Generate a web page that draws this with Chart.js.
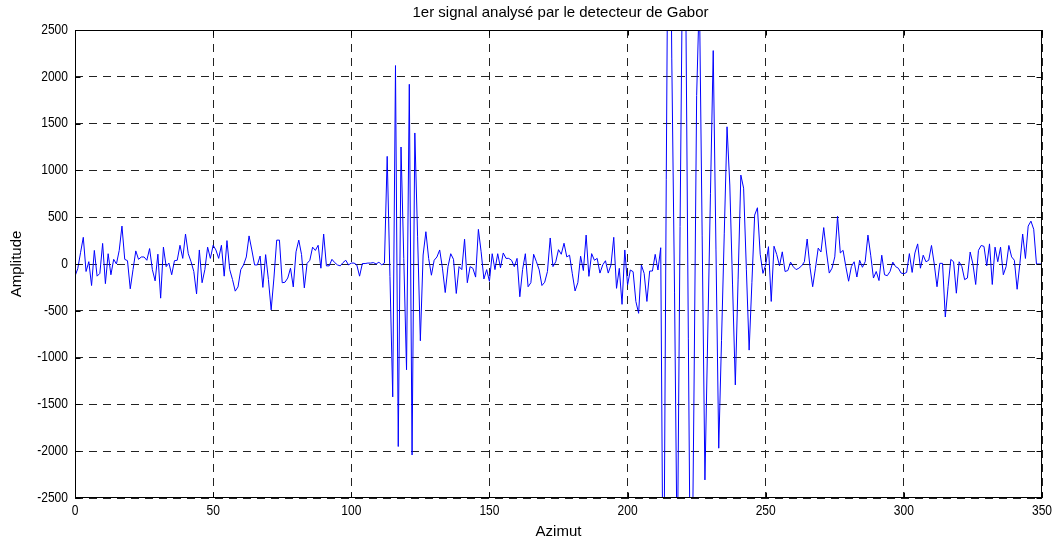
<!DOCTYPE html>
<html>
<head>
<meta charset="utf-8">
<script src="https://cdn.jsdelivr.net/npm/chart.js@4.4.1/dist/chart.umd.min.js"></script>
<style>
  html, body { margin: 0; padding: 0; background: #ffffff; }
  #wrap { width: 1060px; height: 545px; }
</style>
</head>
<body>
<div id="wrap"><canvas id="c" width="1060" height="545"></canvas></div>
<script>
// Amplitude samples, one per azimut step, grouped by blocks of 50
const amp000 = [-130,-50,120,285,-80,25,-230,145,-130,-100,
  220,-210,110,-115,50,0,145,405,50,35,
  -265,-60,140,50,75,75,40,165,-60,-180,
  105,-365,180,-28,10,-115,35,40,200,60,
  320,110,25,-80,-320,150,-200,-60,180,60];
const amp050 = [200,150,60,200,-130,250,-60,-165,-290,-245,
  -60,-10,75,300,150,-10,-10,85,-250,100,
  -165,-490,-150,255,255,-200,-195,-150,-45,-245,
  130,255,100,-255,7,40,180,145,200,-45,
  320,-20,-20,50,15,-10,-20,15,40,-10];
const amp100 = [10,10,-10,-130,5,5,10,10,15,0,
  20,-10,10,1150,-135,-1420,2120,-1950,1250,60,
  -1130,1920,-2040,1400,290,-820,96,345,60,-120,
  40,75,150,-45,-305,-28,110,50,-315,-28,
  -60,265,-200,-28,-45,-140,370,130,-160,-60];
const amp150 = [-185,110,-60,110,-40,118,60,60,40,-28,
  60,-350,-60,110,-243,-200,104,25,-62,-230,
  -195,-80,278,-28,24,153,104,222,76,94,
  -104,-288,-200,83,-70,309,-132,111,40,60,
  -97,-10,35,-97,-10,285,-260,-46,-431,150];
const amp200 = [-225,-64,-82,-400,-527,-11,-100,-400,-75,-75,
  103,-64,174,-4200,900,5500,2200,-300,-3300,400,
  3600,3100,-800,-4500,-1500,1800,2900,300,-2307,-780,
  750,2280,150,-1968,-820,330,1466,844,-224,-1292,
  -170,950,810,-55,-920,-200,523,601,105,-100];
const amp250 = [-10,185,-400,190,100,-20,130,-80,-70,20,
  -30,-60,-45,-20,24,267,-28,-243,-45,170,
  128,389,128,-97,-45,76,510,118,146,-28,
  -184,-28,24,-139,40,-35,24,309,94,-150,
  -80,-177,94,-115,-125,-80,20,-28,-45,-97];
const amp300 = [-104,-90,111,-90,118,215,-45,94,24,40,
  198,0,-243,7,7,-566,-243,49,24,-312,
  24,-28,-167,-150,128,0,-219,146,198,188,
  -20,215,-219,180,24,180,-115,-28,198,76,
  40,-270,7,320,59,405,458,371,0,0,0];

const amplitude = [].concat(amp000, amp050, amp100, amp150, amp200, amp250, amp300);
const azimutStart = 0;       // first azimut value
const azimutStep = 1;        // azimut increment between samples

const xTicks = [0, 50, 100, 150, 200, 250, 300, 350];
const yTicks = [-2500, -2000, -1500, -1000, -500, 0, 500, 1000, 1500, 2000, 2500];

const titleText = '1er signal analysé par le detecteur de Gabor';
const xLabel = 'Azimut';
const yLabel = 'Amplitude';

const points = amplitude.map((v, i) => ({ x: azimutStart + i * azimutStep, y: v }));

const FONT = 'Liberation Sans, Arial, Helvetica, sans-serif';

// Text is drawn slightly condensed, like the exported figure's Helvetica
function drawText(ctx, text, x, y, align, size, sx, rotate) {
  ctx.save();
  ctx.translate(x, y);
  if (rotate) ctx.rotate(-Math.PI / 2);
  ctx.scale(sx, 1);
  ctx.font = size + 'px ' + FONT;
  ctx.fillStyle = '#000';
  ctx.textAlign = align;
  ctx.textBaseline = 'middle';
  ctx.fillText(text, 0, 0);
  ctx.restore();
}

// Draws the frame, MATLAB-style inward tick marks and all labels
const framePlugin = {
  id: 'frame',
  afterDraw(chart) {
    const { ctx, chartArea: a, scales } = chart;
    ctx.save();
    ctx.strokeStyle = '#000';
    ctx.lineWidth = 1;
    const L = Math.round(a.left) + 0.5, R = Math.round(a.right) - 0.5;
    const T = Math.round(a.top) + 0.5, B = Math.round(a.bottom) - 0.5;
    ctx.strokeRect(L, T, R - L, B - T);
    const tl = 5;
    ctx.beginPath();
    xTicks.forEach(v => {
      const px = Math.round(scales.x.getPixelForValue(v)) + 0.5;
      ctx.moveTo(px, B); ctx.lineTo(px, B - tl);
      ctx.moveTo(px, T); ctx.lineTo(px, T + tl);
    });
    yTicks.forEach(v => {
      const py = Math.round(scales.y.getPixelForValue(v)) + 0.5;
      ctx.moveTo(L, py); ctx.lineTo(L + tl, py);
      ctx.moveTo(R, py); ctx.lineTo(R - tl, py);
    });
    ctx.stroke();
    ctx.restore();

    yTicks.forEach(v => {
      drawText(ctx, String(v), a.left - 7, scales.y.getPixelForValue(v), 'right', 14, 0.86, false);
    });
    xTicks.forEach(v => {
      drawText(ctx, String(v), scales.x.getPixelForValue(v), a.bottom + 13, 'center', 14, 0.86, false);
    });
    drawText(ctx, titleText, (a.left + a.right) / 2 + 2, 13, 'center', 15, 1.0, false);
    drawText(ctx, xLabel, (a.left + a.right) / 2, a.bottom + 34, 'center', 15, 1.0, false);
    drawText(ctx, yLabel, 17, (a.top + a.bottom) / 2, 'center', 15, 1.0, true);
  }
};

const gridOpts = {
  color: '#222222',
  lineWidth: 1,
  drawTicks: false
};

new Chart(document.getElementById('c'), {
  type: 'line',
  data: {
    datasets: [{
      data: points,
      borderColor: '#0000ff',
      borderWidth: 1,
      pointRadius: 0,
      fill: false,
      tension: 0
    }]
  },
  options: {
    responsive: false,
    devicePixelRatio: 1,
    animation: false,
    events: [],
    layout: { padding: { top: 30, right: 18, bottom: 0, left: 0 } },
    plugins: { legend: { display: false }, tooltip: { enabled: false }, title: { display: false } },
    scales: {
      x: {
        type: 'linear',
        min: 0,
        max: 350,
        afterBuildTicks: s => { s.ticks = xTicks.map(v => ({ value: v })); },
        afterFit: s => { s.height = 47; },
        grid: gridOpts,
        border: { display: false, dash: [8, 6] },
        ticks: { display: false }
      },
      y: {
        type: 'linear',
        min: -2500,
        max: 2500,
        afterBuildTicks: s => { s.ticks = yTicks.map(v => ({ value: v })); },
        afterFit: s => { s.width = 75; },
        grid: gridOpts,
        border: { display: false, dash: [8, 6] },
        ticks: { display: false }
      }
    }
  },
  plugins: [framePlugin]
});
</script>
</body>
</html>
